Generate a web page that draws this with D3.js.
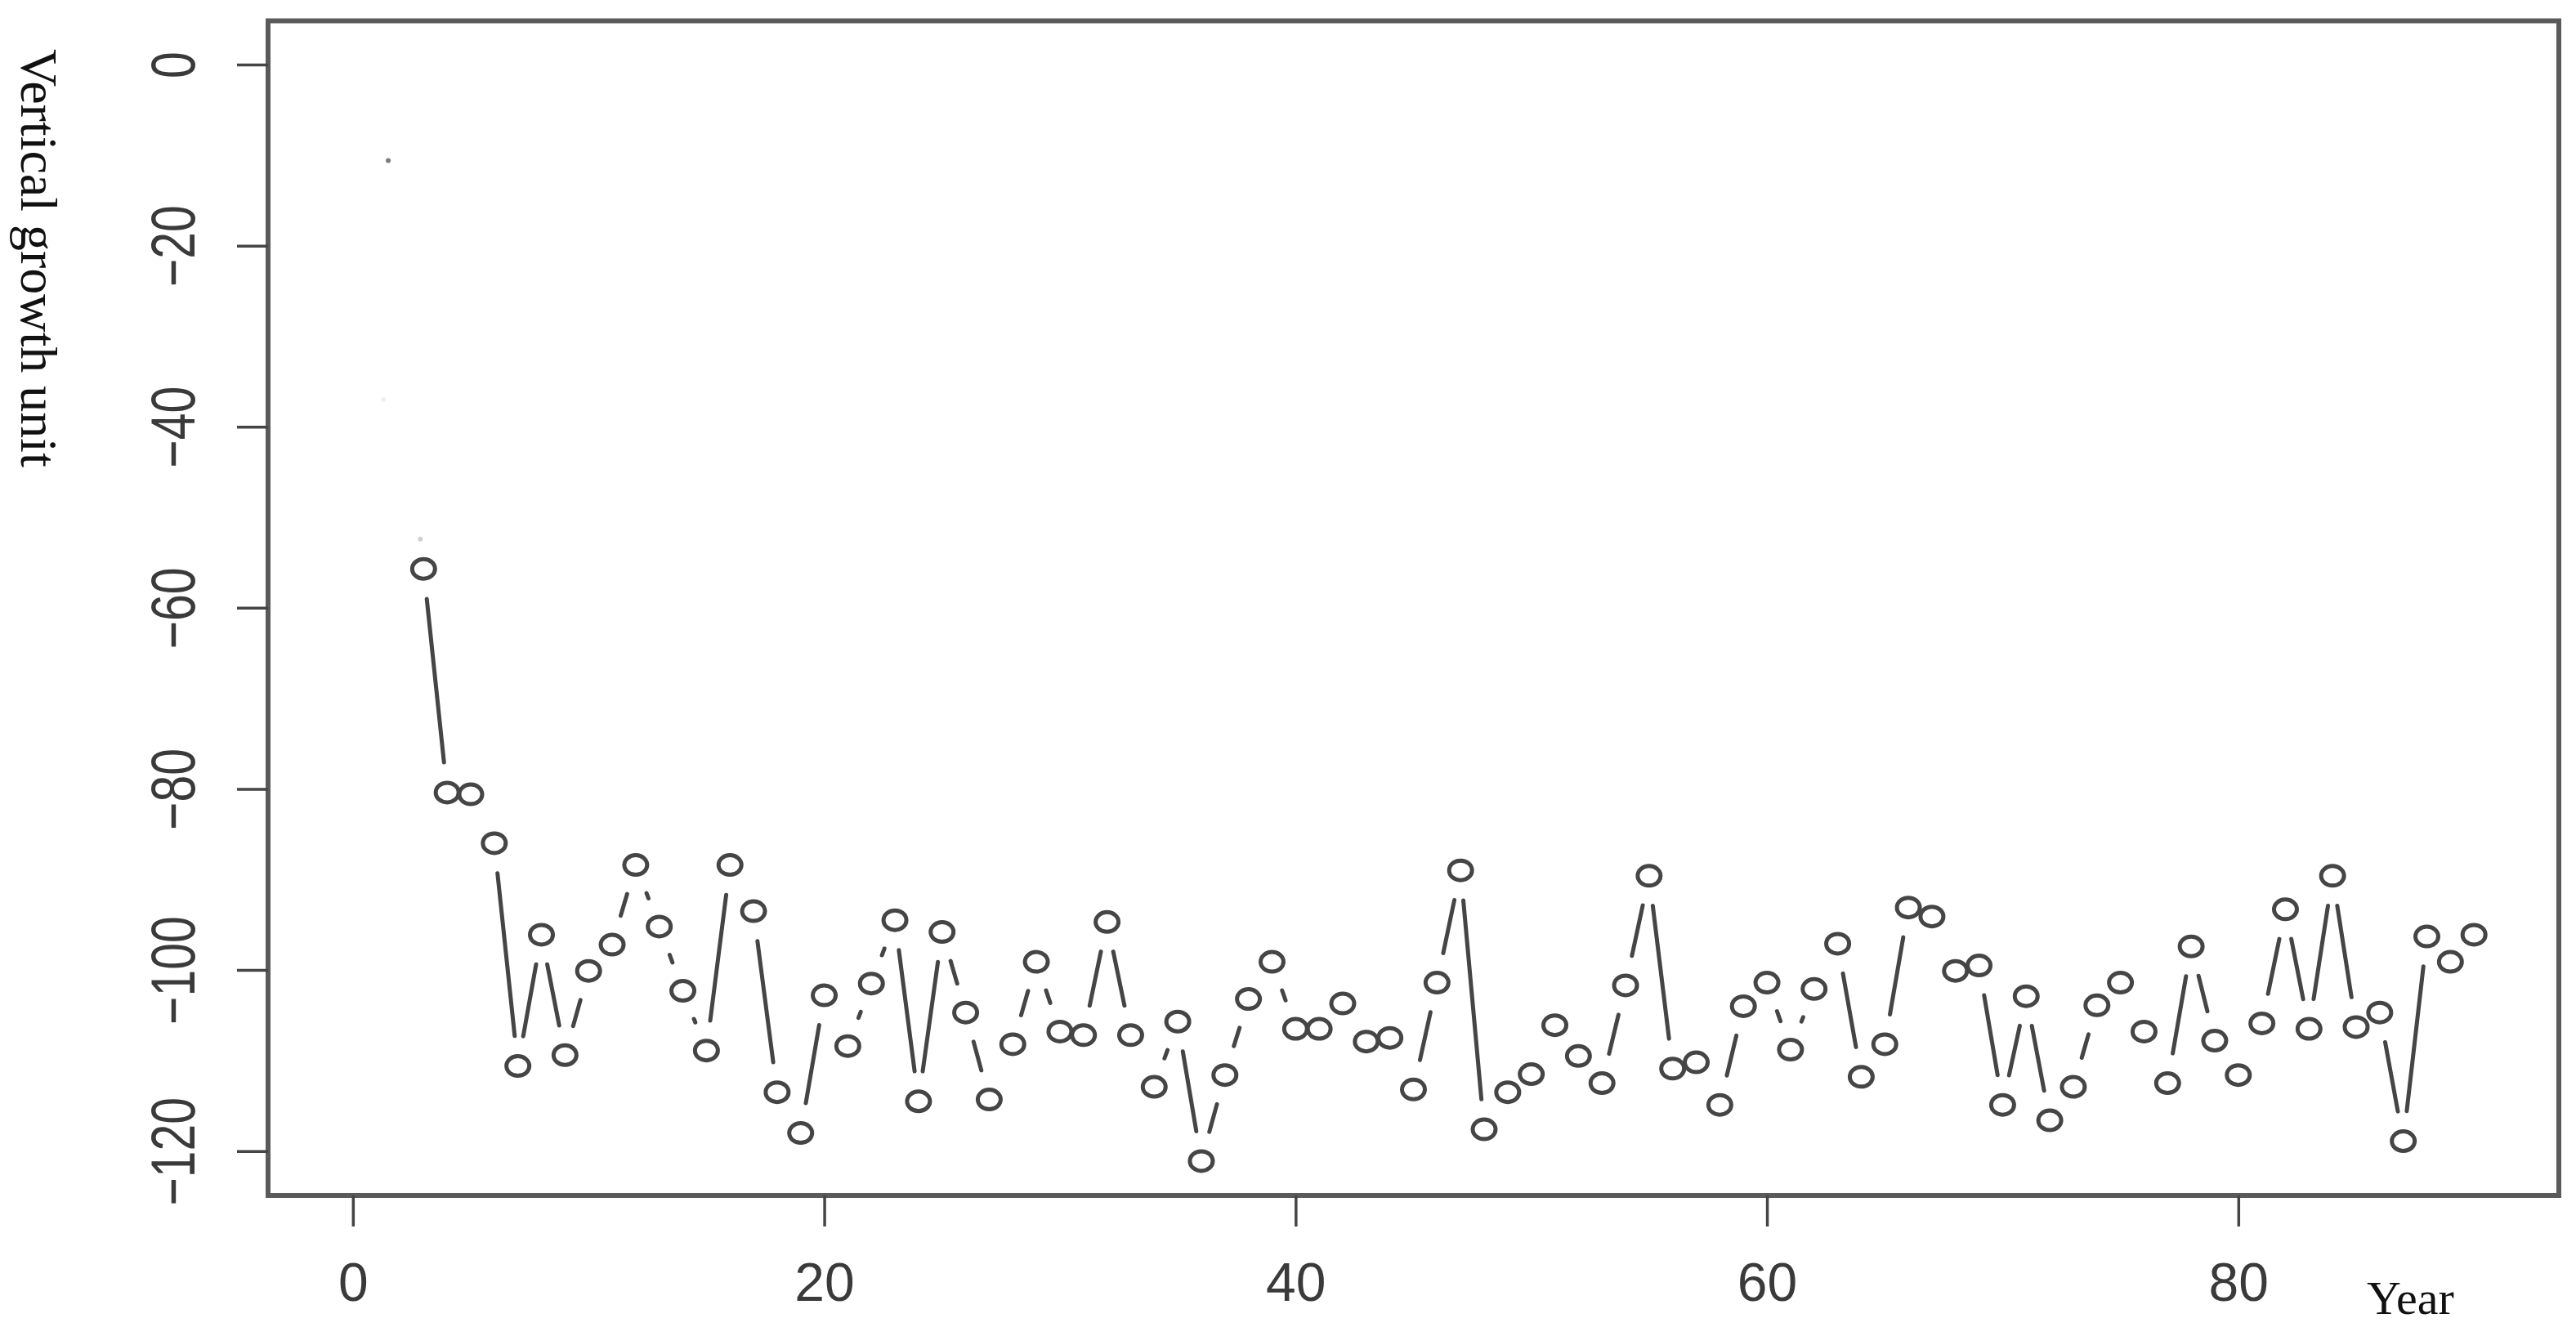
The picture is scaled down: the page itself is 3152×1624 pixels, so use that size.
<!DOCTYPE html>
<html>
<head>
<meta charset="utf-8">
<script src="https://cdn.jsdelivr.net/npm/d3@7"></script>
<style>
    html, body { margin: 0; padding: 0; background: #fff; }
    svg { display: block; }
</style>
</head>
<body>
<div id="chart"></div>
<script>
// values
const years = [3, 4, 5, 6, 7, 8, 9, 10, 11, 12, 13, 14, 15, 16, 17, 18, 19, 20,
    21, 22, 23, 24, 25, 26, 27, 28, 29, 30, 31, 32, 33, 34, 35, 36, 37, 38, 39, 40,
    41, 42, 43, 44, 45, 46, 47, 48, 49, 50, 51, 52, 53, 54, 55, 56, 57, 58, 59, 60,
    61, 62, 63, 64, 65, 66, 67, 68, 69, 70, 71, 72, 73, 74, 75, 76, 77, 78, 79, 80,
    81, 82, 83, 84, 85, 86, 87, 88, 89, 90];
const growth = [-55.7, -80.4, -80.6, -86.0, -110.6, -96.1, -109.4, -100.1, -97.2, -88.4,
    -95.2, -102.3, -108.9, -88.4, -93.5, -113.5, -118.0, -102.8, -108.4, -101.5,
    -94.5, -114.5, -95.8, -104.7, -114.3, -108.2, -99.1, -106.8, -107.2, -94.7,
    -107.2, -112.9, -105.7, -121.1, -111.6, -103.2, -99.1, -106.5, -106.5, -103.7,
    -107.9, -107.5, -113.2, -101.4, -89.0, -117.6, -113.5, -111.5, -106.1, -109.5,
    -112.5, -101.7, -89.6, -110.9, -110.2, -114.9, -104.0, -101.4, -108.8, -102.1,
    -97.1, -111.8, -108.2, -93.1, -94.1, -100.1, -99.5, -114.9, -102.9, -116.6,
    -112.9, -103.9, -101.4, -106.8, -112.5, -97.4, -107.8, -111.6, -105.9, -93.3,
    -106.5, -89.6, -106.3, -104.7, -118.9, -96.3, -99.1, -96.1];
// faint leftovers of the first years, barely visible
const traceYears = [1.5, 1.3, 2.86];
const traceValues = [-10.6, -37.0, -52.4];
const traceAlpha = [0.7, 0.08, 0.25];

const xTicks = [0, 20, 40, 60, 80];
const yTicks = [0, -20, -40, -60, -80, -100, -120];
const xTitle = "Year";
const yTitle = "Vertical growth unit";

const w = 3152;
const h = 1624;
const box = { left: 328, right: 3131, top: 25.5, bottom: 1463 };
const ink = "#454545";
const gap = 37;

const x = d3.scaleLinear()
    .domain([-3.6, 93.6])
    .range([box.left, box.right]);
const y = d3.scaleLinear()
    .domain([-124.9, 4.83])
    .range([box.bottom, box.top]);

const svg = d3.select("#chart")
    .append("svg")
    .attr("width", w)
    .attr("height", h);

const data = years.map(function (d, i) {
    return { year: d, value: growth[i] };
});

// lines between points, cut back round each point like R's type "b"
let segs = [];
for (let i = 1; i < data.length; i++) {
    let x0 = x(data[i - 1].year), y0 = y(data[i - 1].value);
    let x1 = x(data[i].year), y1 = y(data[i].value);
    let len = Math.hypot(x1 - x0, y1 - y0);
    if (len > 2 * gap) {
        let ux = (x1 - x0) / len, uy = (y1 - y0) / len;
        segs.push([x0 + ux * gap, y0 + uy * gap, x1 - ux * gap, y1 - uy * gap]);
    }
}
svg.append("g")
    .attr("id", "segments")
    .selectAll("line")
    .data(segs)
    .enter()
    .append("line")
    .attr("x1", function (d) { return d[0]; })
    .attr("y1", function (d) { return d[1]; })
    .attr("x2", function (d) { return d[2]; })
    .attr("y2", function (d) { return d[3]; })
    .attr("stroke", ink)
    .attr("stroke-width", 5)
    .attr("stroke-linecap", "round");

// points
svg.append("g")
    .attr("id", "points")
    .selectAll("ellipse")
    .data(data)
    .enter()
    .append("ellipse")
    .attr("cx", function (d) { return x(d.year); })
    .attr("cy", function (d) { return y(d.value); })
    .attr("rx", 14)
    .attr("ry", 12)
    .attr("fill", "none")
    .attr("stroke", ink)
    .attr("stroke-width", 5);

// faint traces
svg.append("g")
    .selectAll("circle")
    .data(traceYears)
    .enter()
    .append("circle")
    .attr("cx", function (d) { return x(d); })
    .attr("cy", function (d, i) { return y(traceValues[i]); })
    .attr("r", 3)
    .attr("fill", ink)
    .attr("opacity", function (d, i) { return traceAlpha[i]; });

// box
svg.append("rect")
    .attr("x", box.left)
    .attr("y", box.top)
    .attr("width", box.right - box.left)
    .attr("height", box.bottom - box.top)
    .attr("fill", "none")
    .attr("stroke", "#5a5a5a")
    .attr("stroke-width", 6);

// x axis
const xAxis = svg.append("g")
    .attr("transform", "translate(0," + box.bottom + ")")
    .call(d3.axisBottom(x).tickValues(xTicks).tickSize(38).tickSizeOuter(0).tickPadding(44));
xAxis.select(".domain").remove();
xAxis.selectAll("line")
    .attr("stroke", ink)
    .attr("stroke-width", 3.5);
xAxis.selectAll("text")
    .attr("fill", "#3a3a3a")
    .style("font-family", "'Liberation Sans', Arial, sans-serif")
    .style("font-size", "66px");

// y axis, labels turned like R's default
const yAxis = svg.append("g")
    .attr("transform", "translate(" + box.left + ",0)")
    .call(d3.axisLeft(y).tickValues(yTicks).tickSize(38).tickSizeOuter(0));
yAxis.select(".domain").remove();
yAxis.selectAll("line")
    .attr("stroke", ink)
    .attr("stroke-width", 3.5);
yAxis.selectAll("text")
    .attr("x", 0)
    .attr("dy", 0)
    .attr("transform", "translate(-90,0) rotate(-90) scale(0.92,1.2)")
    .attr("text-anchor", "middle")
    .attr("fill", "#3a3a3a")
    .style("font-family", "'Liberation Sans', Arial, sans-serif")
    .style("font-size", "64px");

// titles
svg.append("text")
    .attr("transform", "translate(26,60) rotate(90)")
    .attr("text-anchor", "start")
    .attr("fill", "#111")
    .style("font-family", "'Liberation Serif', 'Times New Roman', serif")
    .style("font-size", "64px")
    .text(yTitle);

svg.append("text")
    .attr("x", 2896)
    .attr("y", 1608)
    .attr("fill", "#111")
    .style("font-family", "'Liberation Serif', 'Times New Roman', serif")
    .style("font-size", "58px")
    .text(xTitle);
</script>
</body>
</html>
